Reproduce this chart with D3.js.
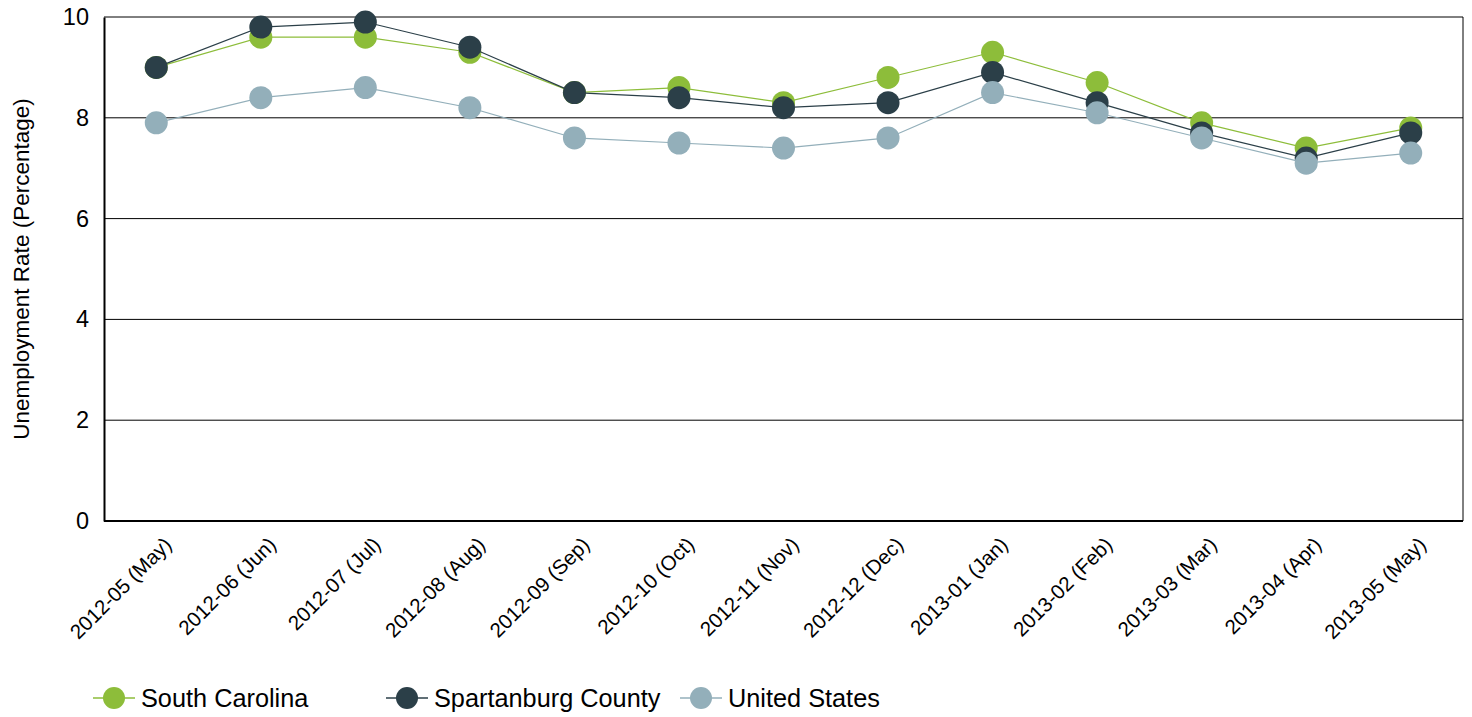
<!DOCTYPE html>
<html><head><meta charset="utf-8">
<script src="https://cdn.jsdelivr.net/npm/d3@7"></script>
<style>body{margin:0;background:#fff;font-family:Arial,"Liberation Sans",sans-serif}</style>
</head><body><svg id="c" width="1472" height="717"></svg>
<script>
const categories = ["2012-05 (May)","2012-06 (Jun)","2012-07 (Jul)","2012-08 (Aug)","2012-09 (Sep)","2012-10 (Oct)","2012-11 (Nov)","2012-12 (Dec)","2013-01 (Jan)","2013-02 (Feb)","2013-03 (Mar)","2013-04 (Apr)","2013-05 (May)"];
const southCarolina = [9.0,9.6,9.6,9.3,8.5,8.6,8.3,8.8,9.3,8.7,7.9,7.4,7.8];
const spartanburg = [9.0,9.8,9.9,9.4,8.5,8.4,8.2,8.3,8.9,8.3,7.7,7.2,7.7];
const unitedStates = [7.9,8.4,8.6,8.2,7.6,7.5,7.4,7.6,8.5,8.1,7.6,7.1,7.3];
const yTicks = [0,2,4,6,8,10];
const seriesNames = ["South Carolina","Spartanburg County","United States"];
const colors = ["#8dbd3a","#2b3f48","#93afba"];
const series = [southCarolina, spartanburg, unitedStates];
const FF = "Arial,'Liberation Sans',sans-serif";

const svg = d3.select("#c");
const L=104,R=1463,T=17,B=521;
const x = d3.scalePoint().domain(categories).range([L,R]).padding(0.5);
const y = d3.scaleLinear().domain([0,10]).range([B,T]);

svg.append("g").selectAll("line").data(yTicks.filter(d=>d>0)).join("line")
  .attr("x1",L).attr("x2",R).attr("y1",d=>y(d)).attr("y2",d=>y(d))
  .attr("stroke","#000").attr("stroke-width",1);
svg.append("line").attr("x1",R).attr("x2",R).attr("y1",T).attr("y2",B).attr("stroke","#000").attr("stroke-width",1);

const ya = svg.append("g").attr("transform",`translate(${L},0)`)
  .call(d3.axisLeft(y).tickValues(yTicks).tickSize(0).tickPadding(15));
ya.select(".domain").attr("stroke","#000").attr("stroke-width",2);
ya.selectAll("text").attr("font-size",23.5).attr("font-family",FF).attr("fill","#000");

const xa = svg.append("g").attr("transform",`translate(0,${B})`)
  .call(d3.axisBottom(x).tickSize(0).tickPadding(0));
xa.select(".domain").attr("stroke","#000").attr("stroke-width",2).attr("d",`M${L},0H${R}`);
xa.selectAll("text").attr("font-size",20.5).attr("font-family",FF).attr("fill","#000")
  .attr("text-anchor","end").attr("dy",0)
  .attr("transform","translate(16,25) rotate(-45)");

svg.append("text").attr("transform",`translate(29,${(T+B)/2 + 0}) rotate(-90)`)
  .attr("text-anchor","middle").attr("font-size",22.5).attr("font-family",FF).attr("fill","#000")
  .text("Unemployment Rate (Percentage)");

const line = d3.line().x((d,i)=>x(categories[i])).y(d=>y(d));
series.forEach((s,k)=>{
  const g = svg.append("g");
  g.append("path").attr("d",line(s)).attr("fill","none").attr("stroke",colors[k]).attr("stroke-width",1.2);
  g.selectAll("circle").data(s).join("circle")
    .attr("cx",(d,i)=>x(categories[i])).attr("cy",d=>y(d)).attr("r",11.5).attr("fill",colors[k]);
});

const legX = [93,386,680];
const lg = svg.append("g");
seriesNames.forEach((n,k)=>{
  const g = lg.append("g").attr("transform",`translate(${legX[k]},698)`);
  g.append("line").attr("x1",0).attr("x2",42).attr("stroke",colors[k]).attr("stroke-width",1.5);
  g.append("circle").attr("cx",21).attr("r",11).attr("fill",colors[k]);
  g.append("text").attr("x",48).attr("dy","0.35em").attr("font-size",25.3).attr("font-family",FF).attr("fill","#000").text(n);
});
</script></body></html>
